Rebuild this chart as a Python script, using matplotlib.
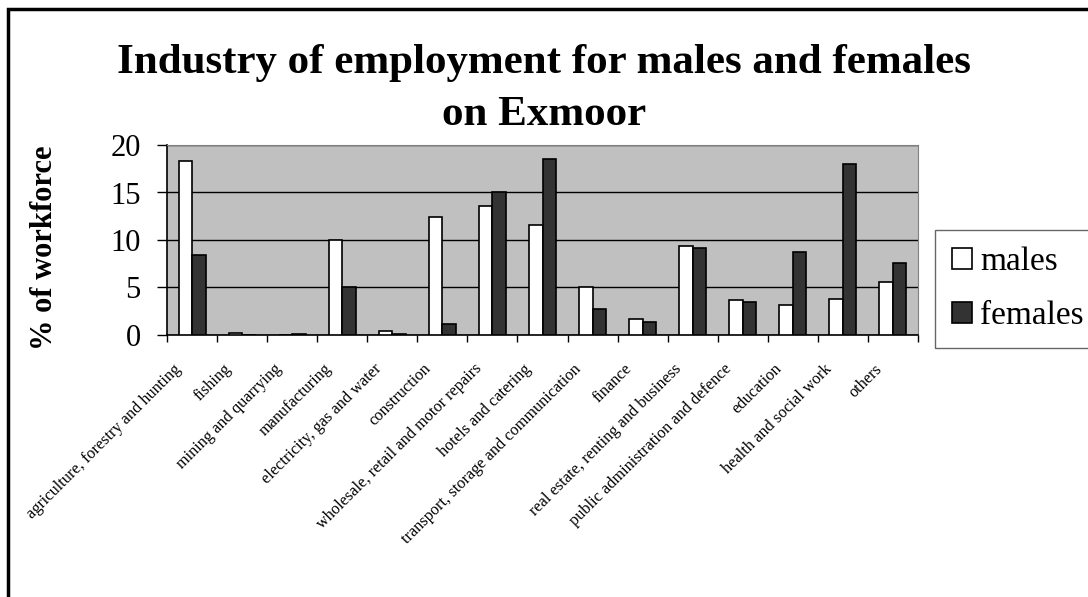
import matplotlib.pyplot as plt
from matplotlib.patches import Rectangle
import matplotlib.transforms as mtransforms
import numpy as np

# 업종 이름과 남녀 비율 (%)
industries = ["agriculture, forestry and hunting", "fishing", "mining and quarrying",
              "manufacturing", "electricity, gas and water", "construction",
              "wholesale, retail and motor repairs", "hotels and catering",
              "transport, storage and communication", "finance",
              "real estate, renting and business", "public administration and defence",
              "education", "health and social work", "others"]
males = [18.3, 0.25, 0.0, 10.0, 0.4, 12.4, 13.6, 11.6, 5.0, 1.7, 9.35, 3.7, 3.2, 3.8, 5.6]
females = [8.4, 0.0, 0.1, 5.0, 0.1, 1.2, 15.0, 18.5, 2.7, 1.35, 9.2, 3.5, 8.7, 18.0, 7.55]
yticks = [0, 5, 10, 15, 20]

plt.rcParams['font.family'] = ['Liberation Serif', 'DejaVu Serif']

fig = plt.figure(figsize=(10.88, 5.97), dpi=100)
ax = fig.add_axes([167/1088, 1-335/597, 751/1088, 190/597])

x = np.arange(len(industries))
w = 0.27
ax.bar(x - w/2, males, w, color='white', edgecolor='black', linewidth=1.2, label='males', zorder=3)
ax.bar(x + w/2, females, w, color='#333333', edgecolor='black', linewidth=1.2, label='females', zorder=3)

ax.set_facecolor('#c0c0c0')
ax.set_xlim(-0.5, len(industries) - 0.5)
ax.set_ylim(0, 20)
ax.set_yticks(yticks)
ax.set_yticklabels([str(t) for t in yticks], fontsize=22)
ax.yaxis.grid(True, color='black', linewidth=1, zorder=1)
ax.set_axisbelow(True)
ax.tick_params(axis='y', length=7, width=1, direction='out', pad=12)

# 눈금은 항목 경계에
ax.set_xticks(np.arange(len(industries) + 1) - 0.5)
ax.set_xticklabels([])
ax.tick_params(axis='x', length=5, width=1, direction='out')

# 항목 라벨 (45도 회전, 중앙에서 조금 왼쪽 아래)
offset = mtransforms.ScaledTranslation(-19/100, -26/100, fig.dpi_scale_trans)
for i, name in enumerate(industries):
    ax.text(i, 0, name, transform=ax.get_xaxis_transform() + offset,
            rotation=45, ha='right', va='top', rotation_mode='anchor', fontsize=11.7)

ax.spines['top'].set_color('#808080')
ax.spines['right'].set_color('#808080')
ax.spines['left'].set_linewidth(1.2)
ax.spines['bottom'].set_linewidth(1.2)

ax.set_ylabel('% of workforce', fontsize=22, fontweight='bold')
ax.yaxis.set_label_coords(-0.144, 0.46)

fig.text(0.50, 1-89/597, 'Industry of employment for males and females\non Exmoor',
         ha='center', va='center', fontsize=31, fontweight='bold', linespacing=1.45)

leg = fig.legend(loc='upper left', bbox_to_anchor=(935/1088, 1-230/597), fontsize=24,
                 frameon=True, fancybox=False, edgecolor='#404040', borderpad=0.5,
                 borderaxespad=0, handlelength=0.6, handleheight=0.6,
                 handletextpad=0.25, labelspacing=0.7)
leg.get_frame().set_linewidth(1)

# 바깥 테두리
fig.patches.append(Rectangle((8/1088, -0.1), 1.2, 1.1 - 9/597, transform=fig.transFigure,
                             fill=False, edgecolor='black', linewidth=2.5))

fig.savefig('out.png', dpi=100)
